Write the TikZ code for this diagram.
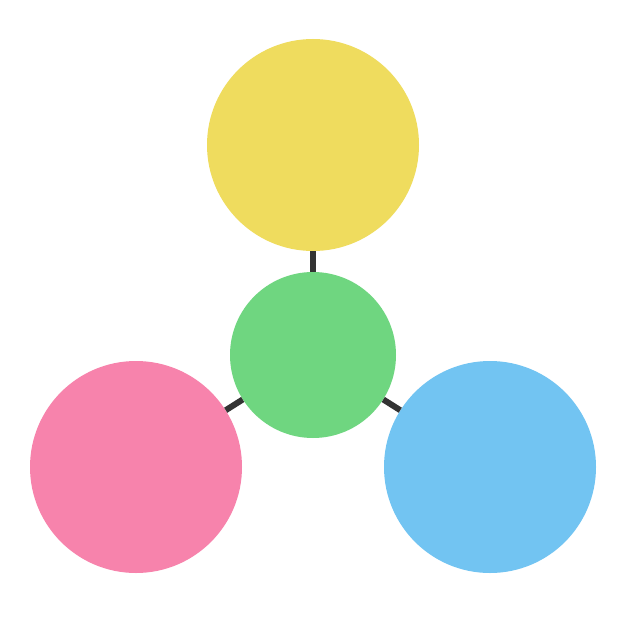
\documentclass[tikz,border=0pt]{standalone}
\definecolor{cyellow}{HTML}{EFDC5E}
\definecolor{cgreen}{HTML}{6FD680}
\definecolor{cpink}{HTML}{F783AC}
\definecolor{cblue}{HTML}{72C4F2}
\definecolor{cline}{HTML}{333333}
\tikzset{
  ball/.style={circle, inner sep=0pt, minimum size=#1},
  link/.style={draw=cline, line width=6pt}
}
\begin{document}
\begin{tikzpicture}[x=1pt,y=-1pt]
\useasboundingbox (0,0) rectangle (626,626);
\fill[white] (0,0) rectangle (626,626);
\node[ball=212pt, fill=cyellow] (y) at (313,145) {};
\node[ball=166pt, fill=cgreen] (g) at (313,355) {};
\node[ball=212pt, fill=cpink] (p) at (136,467) {};
\node[ball=212pt, fill=cblue] (b) at (490,467) {};
\draw[link] (g) -- (y);
\draw[link] (g) -- (p);
\draw[link] (g) -- (b);
\end{tikzpicture}
\end{document}
